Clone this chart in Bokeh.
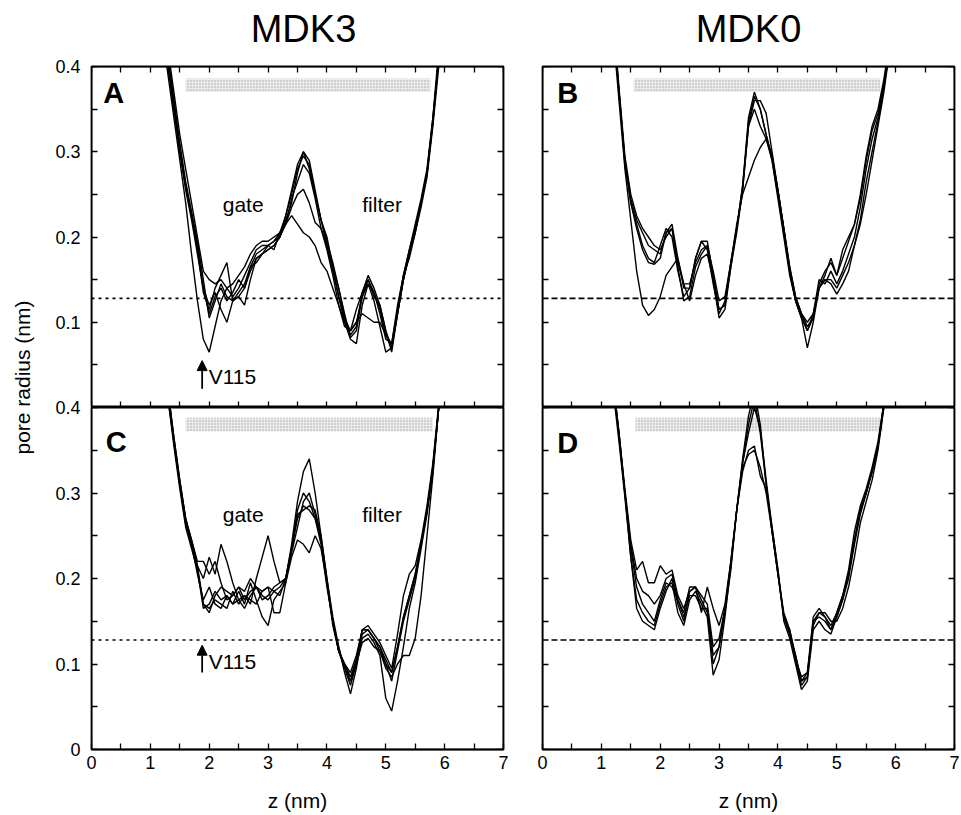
from bokeh.plotting import figure
from bokeh.models import Range1d, LinearAxis, FixedTicker, Span, Label, Arrow, NormalHead
from bokeh.layouts import row, column
from bokeh.embed import file_html
from bokeh.resources import INLINE

FONT = "Liberation Sans"

# ---------------- data ----------------
z = [1.2, 1.3, 1.4, 1.5, 1.6, 1.7, 1.8, 1.9, 2.0,
     2.1, 2.2, 2.3, 2.4, 2.5, 2.6, 2.7, 2.8, 2.9, 3.0,
     3.1, 3.2, 3.3, 3.4, 3.5, 3.6, 3.7, 3.8, 3.9, 4.0,
     4.1, 4.2, 4.3, 4.4, 4.5, 4.6, 4.7, 4.8, 4.9, 5.0,
     5.1, 5.2, 5.3, 5.4, 5.5, 5.6, 5.7, 5.8, 5.9, 6.0]

# Panel A (MDK3)
A1 = [.46, .41, .36, .31, .265, .23, .195, .15, .105,
      .125, .145, .13, .125, .135, .145, .165, .18, .185, .19,
      .195, .20, .22, .24, .275, .30, .28, .25, .22, .20,
      .165, .14, .11, .082, .09, .13, .15, .13, .12, .09,
      .065, .11, .15, .18, .21, .24, .275, .34, .42, .48]
A2 = [.44, .39, .34, .29, .24, .18, .125, .08, .065,
      .095, .125, .14, .13, .14, .155, .17, .185, .19, .19,
      .195, .205, .225, .25, .28, .295, .285, .25, .22, .195,
      .17, .14, .105, .09, .10, .13, .145, .135, .11, .08,
      .075, .115, .155, .185, .215, .245, .28, .34, .41, .47]
A3 = [.47, .42, .37, .32, .28, .24, .20, .16, .15,
      .145, .15, .14, .145, .155, .165, .18, .19, .195, .195,
      .20, .205, .215, .225, .215, .205, .20, .19, .17, .16,
      .14, .12, .10, .09, .10, .11, .105, .10, .10, .085,
      .075, .12, .155, .185, .21, .24, .275, .335, .41, .47]
A4 = [.45, .40, .35, .30, .26, .225, .185, .135, .115,
      .14, .155, .17, .125, .13, .14, .16, .175, .18, .185,
      .19, .20, .215, .235, .25, .256, .24, .217, .21, .19,
      .16, .13, .105, .085, .095, .135, .15, .135, .115, .085,
      .07, .11, .15, .18, .21, .24, .275, .335, .41, .47]
A5 = [.46, .41, .36, .305, .26, .225, .19, .14, .12,
      .135, .115, .10, .125, .13, .12, .15, .175, .18, .185,
      .19, .20, .225, .255, .285, .30, .29, .255, .22, .19,
      .165, .13, .10, .08, .075, .12, .145, .125, .095, .065,
      .07, .11, .15, .18, .205, .235, .27, .33, .40, .46]
A6 = [.45, .40, .35, .30, .255, .22, .18, .14, .11,
      .13, .14, .125, .135, .15, .14, .165, .17, .18, .19,
      .185, .205, .215, .245, .265, .285, .275, .245, .21, .185,
      .155, .12, .095, .09, .115, .135, .155, .14, .12, .09,
      .07, .115, .155, .175, .205, .24, .275, .335, .41, .47]

# Panel B (MDK0)
B1 = [.46, .37, .29, .245, .22, .205, .19, .185, .18,
      .205, .215, .175, .14, .14, .175, .195, .195, .155, .115,
      .12, .165, .205, .255, .335, .365, .35, .32, .295, .255,
      .21, .16, .125, .11, .095, .105, .145, .16, .17, .155,
      .185, .20, .215, .245, .29, .325, .345, .38, .425, .48]
B2 = [.44, .36, .28, .22, .16, .12, .108, .115, .13,
      .155, .165, .175, .145, .125, .155, .175, .18, .15, .115,
      .12, .17, .215, .25, .27, .29, .305, .315, .295, .255,
      .21, .165, .13, .11, .09, .105, .14, .15, .15, .14,
      .155, .17, .19, .22, .265, .30, .335, .375, .42, .47]
B3 = [.45, .37, .285, .24, .21, .185, .17, .168, .175,
      .205, .21, .165, .125, .13, .165, .18, .19, .15, .105,
      .115, .165, .21, .26, .34, .37, .35, .32, .29, .245,
      .20, .155, .125, .105, .07, .10, .14, .155, .175, .155,
      .175, .195, .215, .25, .295, .33, .35, .385, .43, .48]
B4 = [.45, .37, .29, .24, .215, .19, .175, .17, .19,
      .21, .20, .16, .13, .14, .175, .195, .185, .145, .11,
      .125, .17, .21, .255, .33, .35, .33, .315, .29, .25,
      .205, .16, .125, .105, .09, .11, .15, .145, .16, .145,
      .16, .18, .20, .235, .28, .315, .34, .38, .425, .48]
B5 = [.46, .375, .295, .25, .225, .21, .20, .19, .185,
      .20, .21, .17, .145, .145, .17, .185, .19, .16, .125,
      .13, .17, .21, .26, .33, .36, .36, .345, .30, .255,
      .21, .165, .13, .11, .10, .11, .14, .15, .145, .133,
      .145, .16, .19, .215, .25, .29, .33, .37, .42, .47]

# Panel C (MDK3)
C1 = [.47, .42, .365, .315, .27, .245, .215, .17, .16,
      .18, .19, .185, .18, .19, .175, .185, .19, .185, .19,
      .185, .19, .20, .23, .26, .29, .30, .275, .245, .195,
      .145, .115, .10, .085, .105, .14, .14, .13, .12, .105,
      .09, .12, .155, .18, .205, .24, .28, .33, .40, .47]
C2 = [.46, .41, .355, .305, .26, .235, .21, .165, .17,
      .185, .175, .18, .17, .175, .18, .17, .20, .225, .25,
      .22, .195, .20, .235, .27, .285, .28, .27, .24, .19,
      .15, .12, .095, .075, .10, .13, .135, .125, .11, .06,
      .045, .08, .12, .165, .195, .235, .275, .325, .40, .47]
C3 = [.47, .42, .36, .31, .265, .24, .215, .20, .225,
      .205, .24, .22, .195, .175, .165, .18, .19, .175, .18,
      .19, .195, .20, .24, .29, .325, .34, .30, .25, .20,
      .155, .12, .09, .065, .095, .135, .14, .13, .115, .10,
      .08, .115, .15, .175, .20, .24, .28, .33, .40, .47]
C4 = [.46, .41, .36, .31, .265, .24, .205, .175, .19,
      .17, .165, .18, .17, .185, .17, .195, .175, .155, .145,
      .175, .185, .195, .225, .245, .24, .23, .25, .235, .195,
      .15, .115, .095, .08, .10, .125, .13, .12, .115, .095,
      .085, .10, .11, .11, .13, .18, .25, .32, .40, .47]
C5 = [.47, .415, .36, .31, .27, .24, .21, .17, .165,
      .175, .17, .165, .185, .17, .18, .175, .17, .185, .19,
      .16, .16, .195, .235, .275, .28, .285, .28, .25, .20,
      .15, .115, .10, .09, .11, .14, .145, .135, .125, .11,
      .095, .135, .18, .205, .215, .245, .285, .335, .405, .47]
C6 = [.47, .42, .365, .315, .27, .245, .22, .22, .205,
      .22, .195, .175, .18, .19, .185, .20, .19, .18, .175,
      .185, .18, .20, .235, .28, .30, .29, .27, .245, .195,
      .15, .115, .10, .08, .105, .14, .14, .13, .12, .10,
      .09, .12, .155, .18, .205, .24, .28, .33, .40, .47]

# Panel D (MDK0)
D1 = [.43, .37, .30, .225, .165, .15, .145, .14, .165,
      .185, .20, .17, .15, .185, .19, .175, .16, .10, .12,
      .16, .21, .28, .34, .39, .42, .38, .31, .255, .205,
      .155, .135, .11, .08, .085, .15, .155, .15, .14, .16,
      .18, .21, .255, .285, .305, .33, .36, .405, .46, .52]
D2 = [.43, .37, .305, .245, .21, .22, .195, .195, .215,
      .205, .21, .18, .165, .185, .19, .16, .19, .165, .145,
      .17, .22, .28, .33, .345, .35, .33, .30, .255, .205,
      .16, .14, .11, .08, .09, .155, .165, .155, .14, .155,
      .175, .205, .245, .28, .30, .325, .355, .40, .45, .51]
D3 = [.42, .36, .295, .225, .175, .16, .15, .145, .17,
      .19, .195, .16, .145, .175, .185, .17, .155, .087, .105,
      .155, .215, .28, .335, .37, .40, .375, .315, .26, .21,
      .15, .13, .10, .07, .08, .14, .15, .14, .135, .155,
      .175, .20, .24, .275, .30, .325, .355, .405, .46, .52]
D4 = [.43, .365, .30, .235, .19, .17, .16, .15, .175,
      .195, .19, .175, .155, .18, .18, .165, .165, .11, .12,
      .165, .22, .28, .325, .35, .355, .32, .305, .26, .21,
      .155, .14, .105, .085, .09, .145, .16, .16, .15, .15,
      .165, .19, .225, .265, .29, .315, .35, .40, .455, .51]
D5 = [.43, .37, .30, .24, .20, .185, .18, .17, .18,
      .20, .205, .175, .16, .19, .19, .18, .17, .12, .13,
      .165, .215, .28, .335, .38, .41, .37, .31, .255, .205,
      .155, .135, .105, .075, .085, .15, .16, .155, .145, .16,
      .18, .205, .245, .28, .30, .325, .355, .405, .46, .52]

threshold = 0.128

# protein bands (z start, z end, radius bottom, radius top)
band_A = (1.60, 5.76, 0.370, 0.386)
band_B = (1.55, 5.74, 0.370, 0.386)
band_C = (1.60, 5.80, 0.372, 0.388)
band_D = (1.58, 5.78, 0.372, 0.388)

x_major = [0, 1, 2, 3, 4, 5, 6, 7]
x_minor = [0.5, 1.5, 2.5, 3.5, 4.5, 5.5, 6.5]
y_major = [0, 0.1, 0.2, 0.3, 0.4]
y_major_top = [0.1, 0.2, 0.3, 0.4]
y_minor = [0.05, 0.15, 0.25, 0.35]

# ---------------- page geometry (pixels) ----------------
H = 815
STRIP_W = 81          # left strip with the y tick labels / y title
TITLE_H = 64          # top strip with the column titles
FRAME_TOP, FRAME_MID, FRAME_BOT = 66, 407, 749
TICK_FONT = "18px"


def add_axis(p, side, major, minor, fixed, labeled=False, overrides=None):
    ax = LinearAxis(ticker=FixedTicker(ticks=major, minor_ticks=minor))
    ax.major_tick_in = 6
    ax.major_tick_out = 0
    ax.minor_tick_in = 6
    ax.minor_tick_out = 0
    ax.axis_line_width = 1.6
    ax.major_tick_line_width = 1.3
    ax.minor_tick_line_width = 1.3
    if labeled:
        ax.major_label_text_font = FONT
        ax.major_label_text_font_size = TICK_FONT
        ax.major_label_text_color = "black"
        ax.major_label_standoff = 6
        if overrides:
            ax.major_label_overrides = overrides
    else:
        ax.major_label_text_font_size = "0px"
        ax.major_label_text_alpha = 0
    if fixed is not None:
        ax.fixed_location = fixed
    p.add_layout(ax, side)
    return ax


def text_label(x, y, txt, size, bold=False, **kw):
    return Label(x=x, y=y, text=txt, text_font=FONT, text_font_size=size,
                 text_font_style="bold" if bold else "normal",
                 text_baseline="middle", text_color="black",
                 text_align=kw.pop("align", "left"), **kw)


def make_panel(curves, band, letter, letter_xy, dash, width, height,
               left, right, top, bottom):
    p = figure(width=width, height=height,
               x_range=Range1d(0, 7), y_range=Range1d(0, 0.4),
               x_axis_location=None, y_axis_location=None,
               toolbar_location=None, output_backend="svg",
               min_border_left=left, min_border_right=right,
               min_border_top=top, min_border_bottom=bottom,
               outline_line_color="black", outline_line_width=1.8,
               background_fill_color="white", border_fill_color="white")
    p.xgrid.grid_line_color = None
    p.ygrid.grid_line_color = None

    p.quad(left=[band[0]], right=[band[1]], bottom=[band[2]], top=[band[3]],
           fill_color="#ececec", line_color=None,
           hatch_pattern="dot", hatch_color="#909090", hatch_scale=3,
           hatch_weight=1, hatch_alpha=0.8)

    p.add_layout(Span(location=threshold, dimension="width", line_color="black",
                      line_width=1.6, line_dash=dash))

    p.multi_line(xs=[z] * len(curves), ys=curves, line_color="black",
                 line_width=1.4)

    p.add_layout(text_label(letter_xy[0], letter_xy[1], letter, "29px", bold=True))
    add_axis(p, "left", y_major, y_minor, fixed=0)
    add_axis(p, "right", y_major, y_minor, fixed=7)
    return p


def annotate_gate(p, gate_y, arrow_y0, arrow_y1, v_y):
    p.add_layout(text_label(2.23, gate_y, "gate", "21px"))
    p.add_layout(text_label(4.60, gate_y, "filter", "21px"))
    p.add_layout(Arrow(end=NormalHead(size=10, fill_color="black", line_color="black"),
                       x_start=1.88, y_start=arrow_y0, x_end=1.88, y_end=arrow_y1,
                       line_color="black", line_width=1.8))
    p.add_layout(text_label(1.99, v_y, "V115", "21px"))


def x_title(p):
    ax = add_axis(p, "below", x_major, x_minor, fixed=None, labeled=True)
    ax.axis_label = "z (nm)"
    ax.axis_label_text_font = FONT
    ax.axis_label_text_font_size = "21px"
    ax.axis_label_text_font_style = "normal"
    ax.axis_label_text_color = "black"
    ax.axis_label_standoff = 17


# ---------------- panels ----------------
LW, RW = 442, 438          # column widths
TH, BH = 343, 408          # row heights

pA = make_panel([A1, A2, A3, A4, A5, A6], band_A, "A", (0.20, 0.369), "3 4",
                LW, TH, 10, 20, 2, 0)
add_axis(pA, "above", x_major, x_minor, fixed=0.4)
add_axis(pA, "below", x_major, x_minor, fixed=0)
annotate_gate(pA, 0.2385, 0.022, 0.055, 0.0367)

pB = make_panel([B1, B2, B3, B4, B5], band_B, "B", (0.25, 0.369), "6 3",
                RW, TH, 19, 7, 2, 0)
add_axis(pB, "above", x_major, x_minor, fixed=0.4)
add_axis(pB, "below", x_major, x_minor, fixed=0)

pC = make_panel([C1, C2, C3, C4, C5, C6], band_C, "C", (0.24, 0.360), "3 4",
                LW, BH, 10, 20, 0, 66)
x_title(pC)
annotate_gate(pC, 0.2744, 0.090, 0.122, 0.103)

pD = make_panel([D1, D2, D3, D4, D5], band_D, "D", (0.25, 0.358), "6 3",
                RW, BH, 19, 7, 0, 66)
x_title(pD)

# ---- left strip: y tick labels of both rows and the shared y title ----
k_top = 0.4 / (FRAME_MID - FRAME_TOP)
k_bot = 0.4 / (FRAME_BOT - FRAME_MID)
pY = figure(width=STRIP_W, height=H,
            x_range=Range1d(0, STRIP_W),
            y_range=Range1d(-(H - FRAME_MID) * k_top, 0.4 + FRAME_TOP * k_top),
            x_axis_location=None, y_axis_location=None,
            toolbar_location=None, output_backend="svg", min_border=0,
            outline_line_color=None)
pY.extra_y_ranges = {"lower": Range1d(-(H - FRAME_BOT) * k_bot, 0.4 + FRAME_MID * k_bot)}
pY.xgrid.grid_line_color = None
pY.ygrid.grid_line_color = None
for rng, ticks, ov in ((None, y_major_top, None), ("lower", y_major, {0: "0"})):
    ax = LinearAxis(ticker=FixedTicker(ticks=ticks, minor_ticks=[]),
                    fixed_location=STRIP_W)
    if rng:
        ax.y_range_name = rng
    ax.axis_line_color = None
    ax.major_tick_in = 0
    ax.major_tick_out = 0
    ax.minor_tick_in = 0
    ax.minor_tick_out = 0
    ax.major_label_standoff = 1
    ax.major_label_text_font = FONT
    ax.major_label_text_font_size = TICK_FONT
    ax.major_label_text_color = "black"
    if ov:
        ax.major_label_overrides = ov
    pY.add_layout(ax, "left")
pY.add_layout(Label(x=22, y=H - 377, x_units="screen", y_units="screen",
                    text="pore radius (nm)", angle=90, angle_units="deg",
                    text_font=FONT, text_font_size="21px", text_align="center",
                    text_baseline="middle", text_color="black"))

# ---- top strip: column titles ----
pT = figure(width=LW + RW, height=TITLE_H, x_range=Range1d(0, 7), y_range=Range1d(0, 1),
            x_axis_location=None, y_axis_location=None,
            toolbar_location=None, output_backend="svg", min_border=0,
            outline_line_color=None)
pT.xgrid.grid_line_color = None
pT.ygrid.grid_line_color = None
for txt, sx in (("MDK3", 303 - STRIP_W), ("MDK0", 748 - STRIP_W)):
    pT.add_layout(text_label(sx, TITLE_H - 28.5, txt, "38px", align="center",
                             x_units="screen", y_units="screen"))

layout = row(pY, column(pT, row(column(pA, pC), column(pB, pD))))

open("out.html", "w").write(file_html(layout, INLINE))
